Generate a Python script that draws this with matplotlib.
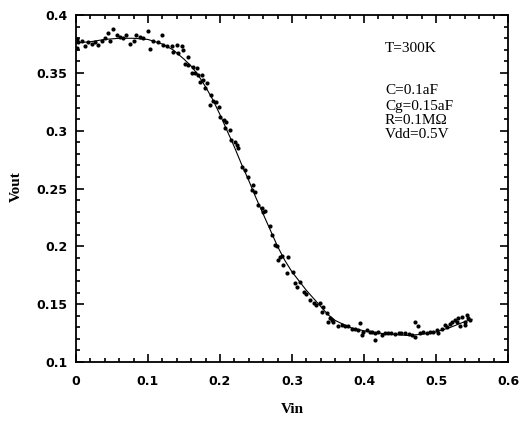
import matplotlib
matplotlib.use("Agg")
import matplotlib.pyplot as plt
from matplotlib.ticker import MultipleLocator, FormatStrFormatter

# fitted curve (Vin, Vout)
curve_x = [0.00, 0.02, 0.04, 0.06, 0.08, 0.10, 0.12, 0.135, 0.15, 0.16, 0.17, 0.18,
           0.19, 0.20, 0.21, 0.22, 0.23, 0.24, 0.25, 0.26, 0.27, 0.28, 0.29, 0.30,
           0.32, 0.34, 0.35, 0.36, 0.38, 0.40, 0.42, 0.44, 0.46, 0.48, 0.50, 0.52,
           0.54, 0.55]
curve_y = [0.376, 0.377, 0.379, 0.380, 0.380, 0.379, 0.375, 0.370, 0.362, 0.356, 0.348, 0.338,
           0.327, 0.314, 0.300, 0.286, 0.271, 0.257, 0.242, 0.228, 0.214, 0.200, 0.188, 0.178,
           0.162, 0.148, 0.141, 0.136, 0.130, 0.127, 0.125, 0.124, 0.123, 0.124, 0.126, 0.130,
           0.135, 0.137]

# simulated points
pts_x = [0.001, 0.002, 0.003, 0.008, 0.0125, 0.017, 0.022, 0.026, 0.031, 0.036, 0.040, 0.045,
         0.047, 0.052, 0.057, 0.061, 0.066, 0.070, 0.075, 0.080, 0.084, 0.089, 0.093,
         0.100, 0.103, 0.107, 0.114, 0.119, 0.121, 0.126,
         0.133, 0.140, 0.147, 0.135, 0.142, 0.149, 0.156, 0.151, 0.156, 0.163, 0.168,
         0.161, 0.165, 0.170, 0.175, 0.172, 0.177, 0.182, 0.179, 0.188, 0.191, 0.195,
         0.186, 0.198, 0.200, 0.205, 0.209, 0.207, 0.214, 0.216, 0.221, 0.223, 0.225,
         0.230, 0.235, 0.239, 0.246, 0.244, 0.249, 0.253, 0.258, 0.262, 0.260, 0.269,
         0.272, 0.276, 0.279, 0.283, 0.281,
         0.286, 0.295, 0.288, 0.293, 0.302, 0.304, 0.311, 0.307, 0.316, 0.320, 0.325,
         0.330, 0.334, 0.339, 0.343, 0.341, 0.348, 0.353, 0.355, 0.350, 0.357, 0.364,
         0.369, 0.374, 0.378, 0.383, 0.388, 0.394, 0.392, 0.399, 0.404, 0.408, 0.397,
         0.411, 0.415, 0.420, 0.425, 0.429, 0.434, 0.438, 0.443, 0.448, 0.452, 0.457,
         0.462, 0.466, 0.471, 0.415, 0.471, 0.475, 0.478, 0.482, 0.487, 0.492, 0.496,
         0.501, 0.503, 0.508, 0.513, 0.515, 0.519, 0.522, 0.526, 0.529, 0.531, 0.536,
         0.533, 0.540, 0.543, 0.545, 0.547, 0.540]
pts_y = [0.372, 0.379, 0.377, 0.378, 0.373, 0.377, 0.375, 0.377, 0.374, 0.378, 0.380, 0.385,
         0.378, 0.388, 0.383, 0.381, 0.380, 0.383, 0.375, 0.378, 0.383, 0.381, 0.380,
         0.386, 0.371, 0.378, 0.377, 0.383, 0.374, 0.373,
         0.373, 0.374, 0.373, 0.368, 0.367, 0.370, 0.364, 0.358, 0.357, 0.355, 0.354,
         0.350, 0.350, 0.348, 0.348, 0.342, 0.344, 0.341, 0.337, 0.331, 0.326, 0.325,
         0.322, 0.321, 0.312, 0.309, 0.308, 0.302, 0.301, 0.292, 0.290, 0.288, 0.285,
         0.269, 0.266, 0.260, 0.253, 0.249, 0.247, 0.236, 0.233, 0.231, 0.230, 0.218,
         0.210, 0.201, 0.200, 0.191, 0.188,
         0.192, 0.191, 0.184, 0.177, 0.178, 0.168, 0.169, 0.165, 0.161, 0.159, 0.154,
         0.151, 0.149, 0.151, 0.148, 0.143, 0.142, 0.138, 0.136, 0.135, 0.135, 0.131,
         0.132, 0.131, 0.131, 0.129, 0.129, 0.134, 0.128, 0.126, 0.128, 0.126, 0.123,
         0.126, 0.125, 0.126, 0.123, 0.125, 0.125, 0.125, 0.124, 0.125, 0.125, 0.125,
         0.124, 0.123, 0.122, 0.119, 0.135, 0.131, 0.125, 0.126, 0.125, 0.126, 0.126,
         0.128, 0.125, 0.129, 0.132, 0.130, 0.133, 0.135, 0.136, 0.135, 0.138, 0.139,
         0.131, 0.135, 0.141, 0.138, 0.136, 0.132]

params = ["T=300K", "C=0.1aF", "Cg=0.15aF", "R=0.1M\u03a9", "Vdd=0.5V"]
params_y = [0.368, 0.3316, 0.3178, 0.3057, 0.2936]

fig = plt.figure(figsize=(5.2, 4.21), dpi=100)
ax = fig.add_axes([0.146, 0.140, 0.831, 0.824])

ax.plot(curve_x, curve_y, '-', color='black', lw=0.8)
ax.plot(pts_x, pts_y, 'o', color='black', ms=3.0, mew=0)

ax.set_xlim(0, 0.6)
ax.set_ylim(0.1, 0.4)
ax.xaxis.set_major_locator(MultipleLocator(0.1))
ax.xaxis.set_minor_locator(MultipleLocator(0.02))
ax.yaxis.set_major_locator(MultipleLocator(0.05))
ax.yaxis.set_minor_locator(MultipleLocator(0.01))
ax.xaxis.set_major_formatter(FormatStrFormatter('%g'))
ax.yaxis.set_major_formatter(FormatStrFormatter('%g'))
ax.tick_params(which='both', direction='in', top=True, right=True, width=1.2)
ax.tick_params(which='major', length=6)
ax.tick_params(which='minor', length=3)
ax.tick_params(axis='x', pad=9)
ax.tick_params(axis='y', pad=6)
for lab in ax.get_xticklabels() + ax.get_yticklabels():
    lab.set_fontsize(9)
    lab.set_fontweight('bold')
for s in ax.spines.values():
    s.set_linewidth(1.3)

for t, yy in zip(params, params_y):
    ax.text(0.429, yy, t, family='Liberation Serif', fontsize=11, va='baseline', ha='left')

ax.set_xlabel("Vin", family='Liberation Serif', fontsize=11, fontweight='bold', labelpad=11)
fig.text(0.031, 0.556, "Vout", family='Liberation Serif', fontsize=11, fontweight='bold',
         rotation=90, ha='center', va='center')

fig.savefig("out.png", dpi=100)
